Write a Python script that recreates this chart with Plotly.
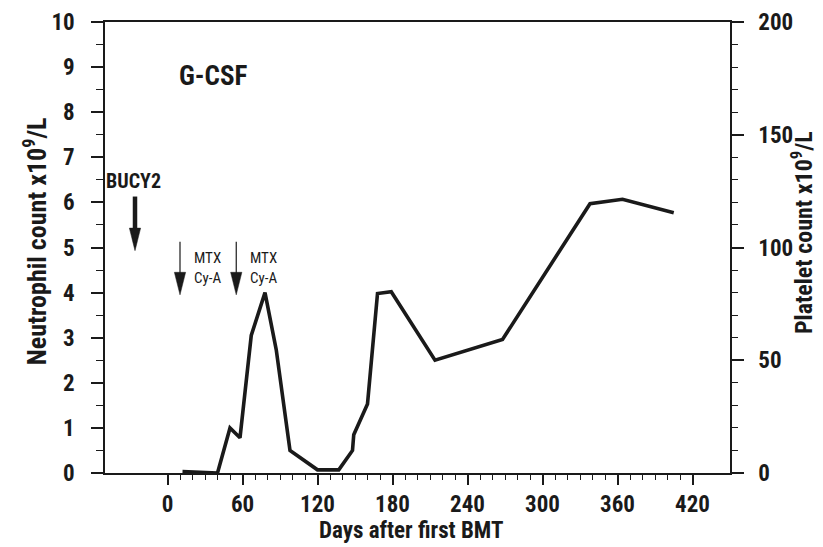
import plotly.graph_objects as go

# ---- data ----
days = [12, 40, 50, 58, 67, 70, 78, 87, 98, 120, 137, 148, 149, 160, 168, 179, 214, 268, 338, 364, 405]
counts = [0.03, 0.0, 1.0, 0.78, 3.05, 3.3, 4.0, 2.73, 0.5, 0.07, 0.07, 0.5, 0.85, 1.53, 3.98, 4.02, 2.5, 2.96, 5.97, 6.07, 5.77]

x_ticks = [0, 60, 120, 180, 240, 300, 360, 420]
y_left_ticks = list(range(0, 11))
y_right_ticks = [0, 50, 100, 150, 200]

bucy_day = -26
mtx_days = [10, 55]
mtx_label = "MTX<br>Cy-A"

FONT = "Roboto Condensed, Noto Sans Condensed, Liberation Sans Narrow, Roboto, sans-serif"
INK = "#1a1a1a"

fig = go.Figure()
fig.add_trace(go.Scatter(x=days, y=counts, mode="lines",
                         line=dict(color=INK, width=3.6), showlegend=False, hoverinfo="skip"))
fig.add_trace(go.Scatter(x=[None], y=[None], yaxis="y2", showlegend=False, hoverinfo="skip"))

shapes = []
annotations = []

def arrow(day, top, tip, shaft_w, head_w_days, head_h):
    shapes.append(dict(type="line", xref="x", yref="y", x0=day, x1=day, y0=top, y1=tip + head_h * 0.5,
                       line=dict(color=INK, width=shaft_w)))
    shapes.append(dict(type="path", xref="x", yref="y",
                       path=f"M {day - head_w_days/2},{tip + head_h} L {day + head_w_days/2},{tip + head_h} L {day},{tip} Z",
                       fillcolor=INK, line=dict(color=INK, width=0.5)))

arrow(bucy_day, 6.13, 4.93, 4.5, 9.0, 0.5)
for d in mtx_days:
    arrow(d, 5.13, 3.95, 1.2, 9.0, 0.5)

annotations.append(dict(x=bucy_day - 1, y=6.48, xref="x", yref="y", text="BUCY2", showarrow=False,
                        font=dict(family=FONT, size=20, color=INK, weight="bold")))
for d in mtx_days:
    annotations.append(dict(x=d + 22.5, y=4.55, xref="x", yref="y", text=mtx_label, showarrow=False,
                            font=dict(family=FONT, size=15, color=INK, weight="normal"), align="center"))
annotations.append(dict(x=37, y=8.8, xref="x", yref="y", text="G-CSF", showarrow=False,
                        font=dict(family=FONT, size=27, color=INK, weight="bold")))

# axis titles
annotations.append(dict(xref="paper", yref="paper", x=-0.112, y=0.514, textangle=-90,
                        text="Neutrophil count x10<sup>9</sup>/L", showarrow=False,
                        xanchor="center", yanchor="middle",
                        font=dict(family=FONT, size=26, color=INK, weight="bold")))
annotations.append(dict(xref="paper", yref="paper", x=1.115, y=0.534, textangle=-90,
                        text="Platelet count x10<sup>9</sup>/L", showarrow=False,
                        xanchor="center", yanchor="middle",
                        font=dict(family=FONT, size=24, color=INK, weight="bold")))
annotations.append(dict(xref="paper", yref="paper", x=0.49, y=-0.127,
                        text="Days after first BMT", showarrow=False,
                        xanchor="center", yanchor="middle",
                        font=dict(family=FONT, size=23, color=INK, weight="bold")))

# the page body adds an 8 px offset, so the figure is kept inside the window
fig.update_layout(
    width=815, height=539,
    margin=dict(l=97, r=93, t=14, b=74),
    paper_bgcolor="white", plot_bgcolor="white",
    font=dict(family=FONT, color=INK, size=20, weight="bold"),
    shapes=shapes, annotations=annotations,
    xaxis=dict(range=[-50, 450], tickvals=x_ticks, ticktext=[str(v) for v in x_ticks],
               ticks="outside", ticklen=10, tickwidth=1.5, tickcolor=INK,
               showline=True, linecolor=INK, linewidth=1.5, mirror=True,
               showgrid=False, zeroline=False, automargin=False,
               tickfont=dict(size=23), ticklabelstandoff=0,
               minor=dict(tickmode="array", tickvals=[v for v in range(0, 421, 10) if v % 60],
                          ticks="outside", ticklen=5, tickwidth=1.2, tickcolor=INK)),
    yaxis=dict(range=[0, 10], tickvals=y_left_ticks, ticks="outside", ticklen=12, tickwidth=1.5,
               tickcolor=INK, showline=True, linecolor=INK, linewidth=1.5, automargin=False,
               showgrid=False, zeroline=False, tickfont=dict(size=23), ticklabelstandoff=12,
               minor=dict(dtick=0.5, ticks="outside", ticklen=7, tickwidth=1.2, tickcolor=INK)),
    yaxis2=dict(range=[0, 200], tickvals=y_right_ticks, overlaying="y", side="right", anchor="x",
                ticks="outside", ticklen=12, tickwidth=1.5, tickcolor=INK, automargin=False,
                showline=True, linecolor=INK, linewidth=1.5, ticklabelstandoff=10,
                showgrid=False, zeroline=False, tickfont=dict(size=23),
                minor=dict(dtick=10, ticks="outside", ticklen=6, tickwidth=1.2, tickcolor=INK)),
)

fig.write_html("out.html")
